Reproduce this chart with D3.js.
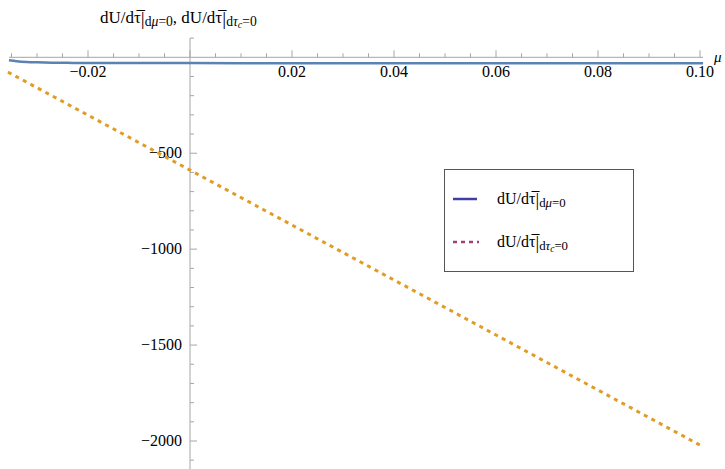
<!DOCTYPE html>
<meta charset="utf-8">
<script src="https://d3js.org/d3.v7.min.js"></script>
<style>
  body { margin: 0; background: #fff; }
</style>
<div id="chart"></div>
<script>
// data
var muBlue = [-0.0355, -0.034, -0.032, -0.030, -0.027, -0.024, -0.02, -0.01, 0, 0.02, 0.04, 0.06, 0.08, 0.1006];
var valBlue = [-15, -20, -24, -26, -28, -29, -30, -30, -30, -31, -31, -31, -31, -31];
var muOrange = [-0.0357, 0, 0.05, 0.1006];
var valOrange = [-77, -588, -1304, -2030];
var xTicks = [-0.02, 0.02, 0.04, 0.06, 0.08, 0.10];
var yTicks = [-500, -1000, -1500, -2000];

var W = 725, H = 469;
var svg = d3.select("#chart").append("svg").attr("width", W).attr("height", H)
  .attr("font-family", "'Liberation Serif', 'Times New Roman', 'DejaVu Serif', serif");

// scales: 0 at x=190, 0.02 per 102px ; 0 at y=57.3, 500 per 96px
var x = d3.scaleLinear().domain([0, 0.1]).range([190, 700]);
var y = d3.scaleLinear().domain([0, -2000]).range([57.3, 441]);

var axisCol = "#a6a6a6";

// x axis
var xAxis = svg.append("g").attr("transform", "translate(0," + y(0) + ")");
xAxis.append("line").attr("x1", x(-0.0355)).attr("x2", x(0.1006))
  .attr("stroke", axisCol).attr("stroke-width", 1);
var minorX = d3.range(-35, 101, 5).map(function(d){ return d / 1000; });
xAxis.selectAll(".tk").data(minorX).enter().append("line")
  .attr("x1", function(d){ return x(d); }).attr("x2", function(d){ return x(d); })
  .attr("y1", 0).attr("y2", function(d){ return Math.abs(Math.round(d*1000)) % 20 === 0 ? -7 : -4; })
  .attr("stroke", axisCol);
xAxis.selectAll(".lb").data(xTicks).enter().append("text")
  .attr("x", function(d){ return x(d); }).attr("y", 20)
  .attr("text-anchor", "middle").style("font-size", "16px")
  .text(function(d){ return d < 0 ? "\u2212" + d3.format(".2f")(-d) : d3.format(".2f")(d); });

// y axis
var yAxis = svg.append("g").attr("transform", "translate(" + x(0) + ",0)");
yAxis.append("line").attr("y1", y(100)).attr("y2", H)
  .attr("stroke", axisCol);
var minorY = d3.range(100, -2200, -100);
yAxis.selectAll(".tk").data(minorY).enter().append("line")
  .attr("y1", function(d){ return y(d); }).attr("y2", function(d){ return y(d); })
  .attr("x1", 0).attr("x2", function(d){ return d % 500 === 0 ? 7 : 4; })
  .attr("stroke", axisCol)
  .style("display", function(d){ return d === 0 ? "none" : null; });
yAxis.selectAll(".lb").data(yTicks).enter().append("text")
  .attr("x", -8).attr("y", function(d){ return y(d) + 5; })
  .attr("text-anchor", "end").style("font-size", "16px")
  .text(function(d){ return "\u2212" + (-d); });

// series
var line = d3.line().x(function(d){ return x(d[0]); }).y(function(d){ return y(d[1]); });
svg.append("path").datum(d3.zip(muBlue, valBlue)).attr("d", line.curve(d3.curveMonotoneX))
  .attr("fill", "none").attr("stroke", "#5e81b5").attr("stroke-width", 2.5);
svg.append("path").datum(d3.zip(muOrange, valOrange)).attr("d", d3.line().x(function(d){ return x(d[0]); }).y(function(d){ return y(d[1]); }))
  .attr("fill", "none").attr("stroke", "#e19c24").attr("stroke-width", 3)
  .attr("stroke-dasharray", "4,4.5");

// label helper: dU/dτ̄|sub
function dLabel(t, tc) {
  t.append("tspan").text("dU/d\u03C4\u0305");
  t.append("tspan").text("|").style("font-size", "1.15em").attr("dy", 2);
  var s = t.append("tspan").style("font-size", "0.8em").attr("dy", 1);
  if (!tc) {
    s.text("d");
    t.append("tspan").style("font-size", "0.8em").style("font-style", "italic").text("\u03BC");
    t.append("tspan").style("font-size", "0.8em").text("=0");
  } else {
    s.text("d");
    t.append("tspan").style("font-size", "0.8em").style("font-style", "italic").text("\u03C4");
    t.append("tspan").style("font-size", "0.6em").style("font-style", "italic").attr("dy", 2).text("c");
    t.append("tspan").style("font-size", "0.8em").attr("dy", -2).text("=0");
  }
}

// axis title
var title = svg.append("text").attr("x", 100).attr("y", 23).style("font-size", "17px");
dLabel(title, false);
title.append("tspan").attr("dy", -3).text(", ");
dLabel(title, true);

svg.append("text").attr("x", 714).attr("y", 62).style("font-size", "15px")
  .style("font-style", "italic").text("\u03BC");

// legend
var lg = svg.append("g");
lg.append("rect").attr("x", 444.5).attr("y", 169.5).attr("width", 189).attr("height", 102)
  .attr("fill", "#fff").attr("stroke", "#555").attr("stroke-width", 1);
lg.append("line").attr("x1", 453).attr("x2", 477).attr("y1", 199).attr("y2", 199)
  .attr("stroke", "#4040a0").attr("stroke-width", 2.5);
lg.append("line").attr("x1", 453).attr("x2", 479).attr("y1", 242).attr("y2", 242)
  .attr("stroke", "#a0407a").attr("stroke-width", 2.5).attr("stroke-dasharray", "4,4");
var l1 = lg.append("text").attr("x", 497).attr("y", 204).style("font-size", "16px");
dLabel(l1, false);
var l2 = lg.append("text").attr("x", 497).attr("y", 247).style("font-size", "16px");
dLabel(l2, true);
</script>
